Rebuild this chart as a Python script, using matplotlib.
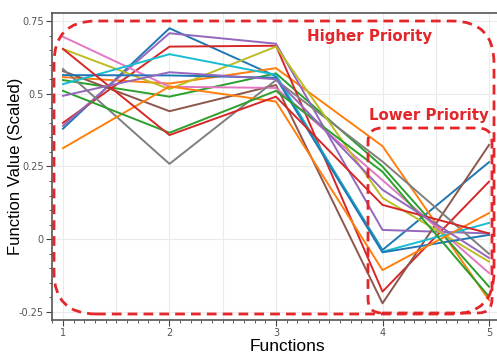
import matplotlib
matplotlib.use("Agg")
import matplotlib.pyplot as plt
from matplotlib.patches import FancyBboxPatch
from matplotlib.transforms import IdentityTransform
from matplotlib.ticker import MultipleLocator

# x positions (functions) and one scaled value series per line
functions = [1, 2, 3, 4, 5]
blue_a = [0.38, 0.725, 0.56, -0.037, 0.265]
orange_a = [0.557, 0.535, 0.588, 0.32, -0.209]
green_a = [0.547, 0.49, 0.57, 0.25, -0.163]
red_a = [0.40, 0.662, 0.665, -0.18, 0.198]
purple_a = [0.39, 0.708, 0.672, 0.032, 0.02]
brown = [0.578, 0.44, 0.53, -0.22, 0.324]
pink = [0.696, 0.524, 0.52, 0.203, -0.116]
gray = [0.585, 0.259, 0.547, 0.267, -0.05]
olive = [0.654, 0.516, 0.662, 0.142, -0.077]
cyan = [0.533, 0.636, 0.565, -0.043, 0.056]
blue_b = [0.564, 0.563, 0.555, -0.045, 0.015]
orange_b = [0.313, 0.525, 0.473, -0.106, 0.09]
green_b = [0.51, 0.366, 0.51, 0.232, -0.197]
red_b = [0.654, 0.358, 0.49, 0.118, 0.02]
purple_b = [0.493, 0.574, 0.55, 0.17, -0.064]

series = [blue_a, orange_a, green_a, red_a, purple_a, brown, pink, gray,
          olive, cyan, blue_b, orange_b, green_b, red_b, purple_b]

y_ticks = [-0.25, 0, 0.25, 0.5, 0.75]
y_ticklabels = ["-0.25", "0", "0.25", "0.5", "0.75"]

RED = "#e3262a"
W, H = 497, 356

fig = plt.figure(figsize=(W / 100, H / 100), dpi=100)
fig.patch.set_facecolor("white")
ax = fig.add_axes([52 / W, 36 / H, 1 - 52 / W, (343 - 36) / H])

for vals in series:
    ax.plot(functions, vals, linewidth=1.4, zorder=3)

ax.set_xlim(0.897, 5.075)
ax.set_ylim(-0.2775, 0.7775)

ax.set_xticks(functions)
ax.set_xticklabels([str(f) for f in functions], fontsize=7, color="#555555")
ax.xaxis.set_minor_locator(MultipleLocator(0.1))
ax.set_yticks(y_ticks)
ax.set_yticklabels(y_ticklabels, fontsize=7, color="#555555")
ax.yaxis.set_minor_locator(MultipleLocator(0.05))
ax.tick_params(which="major", length=4, width=0.8, color="#444444", pad=2)
ax.tick_params(which="minor", length=2, width=0.6, color="#444444")

# light grid
for xv in [1, 1.5, 2, 2.5, 3, 3.5, 4, 4.5, 5]:
    ax.axvline(xv, color="#ebebeb", linewidth=0.8, zorder=0)
for yv in y_ticks:
    ax.axhline(yv, color="#ebebeb", linewidth=0.8, zorder=0)

for side in ["left", "bottom", "top"]:
    ax.spines[side].set_color("#555555")
    ax.spines[side].set_linewidth(1.2)
ax.spines["right"].set_visible(False)

ax.set_xlabel("Functions", fontsize=12.5, family="Liberation Sans")
ax.set_ylabel("Function Value (Scaled)", fontsize=12, family="Liberation Sans")
ax.xaxis.set_label_coords(0.53, -0.062)
ax.yaxis.set_label_coords(-0.066, 0.5)

# dashed rounded annotation boxes, in output pixels
def dashed_box(x0, y_top, x1, y_bot, radius):
    box = FancyBboxPatch((x0, H - y_bot), x1 - x0, y_bot - y_top,
                         boxstyle=f"round,pad=0,rounding_size={radius}",
                         transform=IdentityTransform(), fill=False,
                         edgecolor=RED, linewidth=2.0, linestyle=(0, (3.5, 2.2)),
                         zorder=5)
    fig.add_artist(box)

dashed_box(54, 21, 494, 314, 42)
dashed_box(368, 128, 492, 313, 14)

fig.text(370 / W, 1 - 37 / H, "Higher Priority", color=RED, fontsize=10.8,
         fontweight="bold", ha="center", va="center")
fig.text(429 / W, 1 - 115 / H, "Lower Priority", color=RED, fontsize=10.8,
         fontweight="bold", ha="center", va="center")

fig.savefig("out.png", dpi=100, facecolor="white")
